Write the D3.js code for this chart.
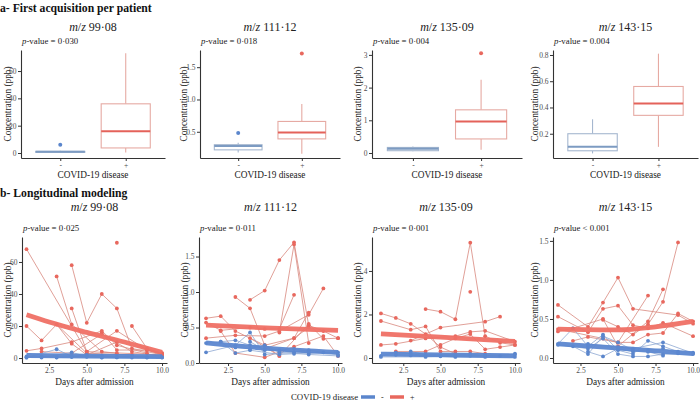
<!DOCTYPE html>
<html><head><meta charset="utf-8">
<script src="https://cdn.jsdelivr.net/npm/d3@7"></script>
<style>
body{margin:0;background:#fff;}
text{font-family:"Liberation Serif","Times New Roman",serif;}
</style></head>
<body><svg id="c" width="700" height="404"></svg>
<script>
// ---------- DATA ----------
const compounds = ["99·08", "111·12", "135·09", "143·15"];
const pTop = ["= 0·030", "= 0·018", "= 0·004", "= 0.004"];
const pBottom = ["= 0·025", "= 0·011", "= 0·001", "< 0.001"];
const boxCats = ["-", "+"];
// [min whisker, q1, median, q3, max whisker] for "-" and "+"
const box99 = [[0.4, 0.7, 1.0, 1.2, 1.6], [0.3, 3.7, 16, 36, 73]];
const box111 = [[0.18, 0.22, 0.28, 0.30, 0.33], [0.16, 0.39, 0.49, 0.66, 0.93]];
const box135 = [[0.05, 0.07, 0.13, 0.17, 0.2], [0.1, 0.43, 0.96, 1.32, 2.24]];
const box143 = [[0.05, 0.07, 0.10, 0.20, 0.31], [0.1, 0.34, 0.43, 0.56, 0.81]];
const out99 = [[6], []];
const out111 = [[0.48], [1.71]];
const out135 = [[], [3.05]];
const out143 = [[], []];

const yTicksTop = [[0, 20, 40, 60], [0.5, 1.0, 1.5], [0, 1, 2, 3], [0.2, 0.4, 0.6, 0.8]];
const yTicksBottom = [[0, 20, 40, 60], [0.0, 0.5, 1.0, 1.5], [0, 2, 4], [0.0, 0.5, 1.0, 1.5]];
const dayTicks = [2.5, 5.0, 7.5, 10.0];

// longitudinal trajectories: [day, value]
const red99 = [
  [[1,68],[5,4],[10,2]],
  [[1,20],[2,11],[3,21],[5,3],[8,2]],
  [[3,51],[4,21],[6,4],[7,3]],
  [[4,58],[5,22],[6,40],[7,31],[8,6],[10,2]],
  [[4,31],[5,4],[7,17],[9,5],[10,3]],
  [[1,4.5],[2,6],[4,10],[6,17],[7,8],[9,3]],
  [[2,4],[4,3],[6,15],[8,4],[10,1]],
  [[8,20],[9,6],[10,3]],
  [[7,72]],
  [[3,21],[4,9],[5,2],[7,10]],
  [[6,16],[7,5],[9,5],[10,2]]
];
const blue99 = [
  [[1,0.5],[2,0.3],[4,3.5],[5,1],[7,0.5],[8,0.3],[10,0.4]],
  [[1,0.2],[3,5.5],[4,1],[6,0.3],[9,0.5]],
  [[2,0.8],[3,0.5],[5,0.8],[6,0.4],[8,1.2],[10,0.3]],
  [[3,0.3],[4,0.6],[5,2],[7,0.4],[9,0.3]],
  [[1,1],[2,1],[6,1.5],[7,0.8],[10,0.6]]
];
const red111 = [
  [[1,0.63],[2,0.66],[3,0.45],[5,0.25],[7,0.35],[8,0.71]],
  [[3,0.93],[4,0.77],[5,0.25],[6,0.1]],
  [[4,0.89],[5,1.02],[6,1.45],[7,1.70],[8,0.53],[9,0.45],[10,0.35]],
  [[6,0.43],[7,1.67],[8,0.28]],
  [[1,0.57],[2,0.46],[4,0.5],[5,0.48],[6,0.48],[7,0.96]],
  [[1,0.35],[3,0.39],[5,0.38],[6,0.45],[8,0.68],[9,1.05]],
  [[2,0.45],[3,0.14],[5,0.08],[7,0.23],[9,0.38],[10,0.1]],
  [[4,0.35],[6,0.1],[8,0.55],[9,0.34],[10,0.35]],
  [[5,0.2],[7,0.35],[8,0.5]]
];
const blue111 = [
  [[1,0.28],[2,0.3],[3,0.32],[4,0.25],[5,0.2],[6,0.18],[8,0.14],[10,0.15]],
  [[1,0.15],[3,0.25],[4,0.43],[5,0.12],[7,0.15],[8,0.18],[10,0.12]],
  [[2,0.3],[3,0.14],[4,0.18],[6,0.12],[7,0.13],[9,0.15]],
  [[3,0.22],[4,0.2],[5,0.25],[6,0.15],[8,0.12],[10,0.1]],
  [[4,0.3],[5,0.18],[7,0.2],[8,0.16]]
];
const red135 = [
  [[1,2.05],[2,1.84],[3,1.57],[4,1.1],[5,0.5],[6,0.2]],
  [[1,1.7],[3,1.3],[4,1.45],[5,0.3],[6,0.3],[7,0.3],[8,0.2]],
  [[4,2.25],[5,2.13],[6,1.78],[7,5.3],[8,1.0],[9,0.7],[10,0.6]],
  [[3,0.8],[5,1.4],[8,1.67],[9,1.9]],
  [[1,0.6],[2,0.65],[4,0.9],[6,1.0],[7,1.2],[8,1.25],[10,0.75]],
  [[2,0.3],[4,0.3],[5,0.6],[6,0.9],[7,1.1],[8,0.4],[9,0.5],[10,0.6]],
  [[7,3.04]]
];
const blue135 = [
  [[1,0.1],[2,0.25],[3,0.2],[4,0.1],[6,0.08],[8,0.12],[10,0.15]],
  [[2,0.15],[3,0.12],[5,0.12],[7,0.1],[9,0.1],[10,0.2]],
  [[1,0.05],[4,0.05],[5,0.08],[6,0.05],[8,0.05],[10,0.05]],
  [[3,0.3],[4,0.15],[7,0.18],[8,0.1]]
];
const red143 = [
  [[1,0.68],[3,0.4],[4,0.71],[5,1.03],[6,0.63],[9,0.55],[10,0.44]],
  [[1,0.53],[3,0.33],[4,0.63],[5,0.67],[6,0.42],[7,0.38],[8,0.45],[10,0.28]],
  [[1,0.34],[2,0.38],[4,0.5],[5,0.15],[7,0.47],[8,0.88]],
  [[4,0.49],[5,0.4],[6,0.3],[7,0.43],[8,0.72],[9,1.48]],
  [[2,0.22],[3,0.27],[5,0.2],[6,0.2],[7,0.3],[8,0.32],[9,0.57],[10,0.47]],
  [[1,0.37],[4,0.25],[5,0.2],[7,0.8]]
];
const blue143 = [
  [[1,0.18],[2,0.38],[3,0.15],[4,0.3],[5,0.1],[6,0.05],[7,0.22],[8,0.15],[9,0.08],[10,0.07]],
  [[1,0.17],[3,0.12],[4,0.25],[5,0.05],[6,0.02],[7,0.02],[8,0.05],[10,0.05]],
  [[3,0.08],[4,0.02],[5,0.12],[6,0.08],[7,0.1],[8,0.12],[9,0.06]],
  [[2,0.15],[3,0.05],[4,0.28],[5,0.2],[6,0.1],[7,0.08],[8,0.03]],
  [[3,0.18],[5,0.14],[6,0.12],[8,0.2],[10,0.06]]
];
// fitted model curves
const fitRed99 = [[1,27],[2.5,22.5],[5,16],[7.5,10],[10,3.5]];
const fitBlue99 = [[1,1.6],[5,1.2],[10,0.9]];
const fitRed111 = [[1,0.535],[5.5,0.49],[10,0.46]];
const fitBlue111 = [[1,0.285],[5,0.21],[10,0.15]];
const fitRed135 = [[1,1.11],[5,0.96],[10,0.76]];
const fitBlue135 = [[1,0.18],[5,0.14],[10,0.1]];
const fitRed143 = [[1,0.37],[5,0.36],[7.5,0.40],[10,0.47]];
const fitBlue143 = [[1,0.18],[5.5,0.12],[10,0.055]];

const boxes = [box99, box111, box135, box143];
const outs = [out99, out111, out135, out143];
const reds = [red99, red111, red135, red143];
const blues = [blue99, blue111, blue135, blue143];
const fitReds = [fitRed99, fitRed111, fitRed135, fitRed143];
const fitBlues = [fitBlue99, fitBlue111, fitBlue135, fitBlue143];

// ---------- LAYOUT ----------
const topLayout = [
  {x0:21, x1:165, yd:[-3.66, 75.4], ylab:8},
  {x0:200, x1:340, yd:[0.094, 1.766], ylab:184},
  {x0:372, x1:522, yd:[-0.153, 3.15], ylab:358},
  {x0:553, x1:698, yd:[0.015, 0.838], ylab:535}
];
const botLayout = [
  {x0:22, x1:167, xd:[0.7, 10.33], yd:[-3.1, 75.6], ylab:8},
  {x0:199, x1:342, xd:[0.52, 10.27], yd:[0, 1.775], ylab:185},
  {x0:372, x1:520, xd:[0.4, 10.34], yd:[-0.23, 5.56], ylab:358},
  {x0:553, x1:698, xd:[0.67, 10.33], yd:[-0.064, 1.55], ylab:535}
];
const TOP = {y0:50, y1:158}, BOT = {y0:237, y1:363};
const BLUE = "#5b86cc", RED = "#e8685e";
const BLUE_LINE = "#8ea8d3", RED_LINE = "#d98a80";
const BOX_BLUE = "#a5b7cf", BOX_BLUE_MED = "#7d9bc2";
const BOX_RED = "#e6aaa3", BOX_RED_MED = "#e4625a";
const AX = "#333333", TXT = "#4d4d4d";
const FS_TICK = "7.5px", FS_AXT = "9.3px", FS_P = "8.8px", FS_T = "12px", FS_H = "11.7px";

const svg = d3.select("#c");

function styleAxis(g){
  g.select(".domain").attr("stroke", AX).attr("stroke-width", 1.1);
  g.selectAll(".tick line").attr("stroke", AX);
  g.selectAll(".tick text").attr("fill", TXT).attr("font-size", FS_TICK)
   .attr("font-family", "Liberation Serif");
}

function titles(cx, yT, yP, x0, i, pArr){
  const t = svg.append("text").attr("x", cx).attr("y", yT).attr("text-anchor","middle")
     .attr("font-size",FS_T).attr("fill","#222");
  t.append("tspan").attr("font-style","italic").text("m");
  t.append("tspan").text("/");
  t.append("tspan").attr("font-style","italic").text("z");
  t.append("tspan").text(" " + compounds[i]);
  const p = svg.append("text").attr("x", x0).attr("y", yP)
     .attr("font-size",FS_P).attr("fill","#222");
  p.append("tspan").attr("font-style","italic").text("p");
  p.append("tspan").text("-value " + pArr[i]);
}

function yTitle(x, cy){
  svg.append("text").attr("transform", `translate(${x},${cy}) rotate(-90)`)
    .attr("text-anchor","middle").attr("dy","0.35em").attr("font-size",FS_AXT)
    .attr("fill","#222").text("Concentration (ppb)");
}

// section titles
svg.append("text").attr("x",0).attr("y",12).attr("font-size",FS_H).attr("font-weight","bold")
  .attr("fill","#111").text("a- First acquisition per patient");
svg.append("text").attr("x",0).attr("y",197).attr("font-size",FS_H).attr("font-weight","bold")
  .attr("fill","#111").text("b- Longitudinal modeling");

// ---------- TOP ROW: boxplots ----------
topLayout.forEach((L, i) => {
  const x = d3.scalePoint().domain(boxCats).range([L.x0, L.x1]).padding(0.6);
  const y = d3.scaleLinear().domain(L.yd).range([TOP.y1, TOP.y0]);
  const bw = x.step() * 0.75;
  const cols = [[BOX_BLUE, BOX_BLUE_MED, BLUE], [BOX_RED, BOX_RED_MED, RED]];
  boxCats.forEach((c, k) => {
    const s = boxes[i][k], cx = x(c), [oc, mc, pc] = cols[k];
    const g = svg.append("g");
    g.append("line").attr("x1",cx).attr("x2",cx).attr("y1",y(s[0])).attr("y2",y(s[1]))
      .attr("stroke",oc).attr("stroke-width",1.1);
    g.append("line").attr("x1",cx).attr("x2",cx).attr("y1",y(s[3])).attr("y2",y(s[4]))
      .attr("stroke",oc).attr("stroke-width",1.1);
    g.append("rect").attr("x",cx-bw/2).attr("width",bw).attr("y",y(s[3]))
      .attr("height",Math.max(1, y(s[1])-y(s[3]))).attr("fill","#fff")
      .attr("stroke",oc).attr("stroke-width",1.1);
    g.append("line").attr("x1",cx-bw/2).attr("x2",cx+bw/2).attr("y1",y(s[2])).attr("y2",y(s[2]))
      .attr("stroke",mc).attr("stroke-width",2);
    outs[i][k].forEach(v => g.append("circle").attr("cx",cx).attr("cy",y(v)).attr("r",2).attr("fill",pc));
  });
  svg.append("g").attr("transform",`translate(${L.x0},0)`)
    .call(d3.axisLeft(y).tickValues(yTicksTop[i]).tickFormat(d3.format(i===0||i===2 ? "d" : ".1f")).tickSize(3).tickSizeOuter(0).tickPadding(1.5))
    .call(styleAxis);
  svg.append("g").attr("transform",`translate(0,${TOP.y1})`)
    .call(d3.axisBottom(x).tickSize(3).tickSizeOuter(0).tickPadding(1.5))
    .call(styleAxis);
  titles((L.x0+L.x1)/2, 31, 44, L.x0+1, i, pTop);
  yTitle(L.ylab, (TOP.y0+TOP.y1)/2);
  svg.append("text").attr("x",(L.x0+L.x1)/2).attr("y",178).attr("text-anchor","middle")
    .attr("font-size",FS_AXT).attr("fill","#222").text("COVID-19 disease");
});

// ---------- BOTTOM ROW: longitudinal ----------
botLayout.forEach((L, i) => {
  const x = d3.scaleLinear().domain(L.xd).range([L.x0, L.x1]);
  const y = d3.scaleLinear().domain(L.yd).range([BOT.y1, BOT.y0]);
  const line = d3.line().x(d => x(d[0])).y(d => y(d[1]));
  const fitLine = d3.line().x(d => x(d[0])).y(d => y(d[1])).curve(d3.curveMonotoneX);
  const g = svg.append("g");
  [[reds[i], RED_LINE, RED], [blues[i], BLUE_LINE, BLUE]].forEach(([set, lc, pc]) => {
    set.forEach(tr => {
      if (tr.length > 1) g.append("path").attr("d", line(tr)).attr("fill","none")
        .attr("stroke", lc).attr("stroke-width", 0.9).attr("opacity", 0.9);
    });
    set.forEach(tr => tr.forEach(d => g.append("circle").attr("cx",x(d[0])).attr("cy",y(d[1]))
        .attr("r",1.9).attr("fill",pc)));
  });
  g.append("path").attr("d", fitLine(fitReds[i])).attr("fill","none").attr("stroke","#ef7065")
    .attr("stroke-width",4.8).attr("opacity",0.95);
  g.append("path").attr("d", fitLine(fitBlues[i])).attr("fill","none").attr("stroke","#5c87d0")
    .attr("stroke-width",4.8).attr("opacity",0.95);

  svg.append("g").attr("transform",`translate(${L.x0},0)`)
    .call(d3.axisLeft(y).tickValues(yTicksBottom[i]).tickFormat(d3.format(i===0||i===2 ? "d" : ".1f")).tickSize(3).tickSizeOuter(0).tickPadding(1.5))
    .call(styleAxis);
  svg.append("g").attr("transform",`translate(0,${BOT.y1})`)
    .call(d3.axisBottom(x).tickValues(dayTicks).tickFormat(d3.format(".1f")).tickSize(3).tickSizeOuter(0).tickPadding(2))
    .call(styleAxis);
  titles((L.x0+L.x1)/2, 211, 231, L.x0+1, i, pBottom);
  yTitle(L.ylab, (BOT.y0+BOT.y1)/2);
  svg.append("text").attr("x",(L.x0+L.x1)/2).attr("y",385).attr("text-anchor","middle")
    .attr("font-size",FS_AXT).attr("fill","#222").text("Days after admission");
});

// ---------- LEGEND ----------
const lg = svg.append("g");
lg.append("text").attr("x",291).attr("y",400).attr("font-size","8.8px").attr("fill","#222").text("COVID-19 disease");
[["-", BLUE, 361], ["+", RED, 390]].forEach(([lab, col, lx]) => {
  lg.append("line").attr("x1",lx).attr("x2",lx+14).attr("y1",397).attr("y2",397)
    .attr("stroke",col).attr("stroke-width",3.5);
  lg.append("text").attr("x",lx+20).attr("y",400).attr("font-size","8px").attr("fill","#222").text(lab);
});
</script></body></html>
